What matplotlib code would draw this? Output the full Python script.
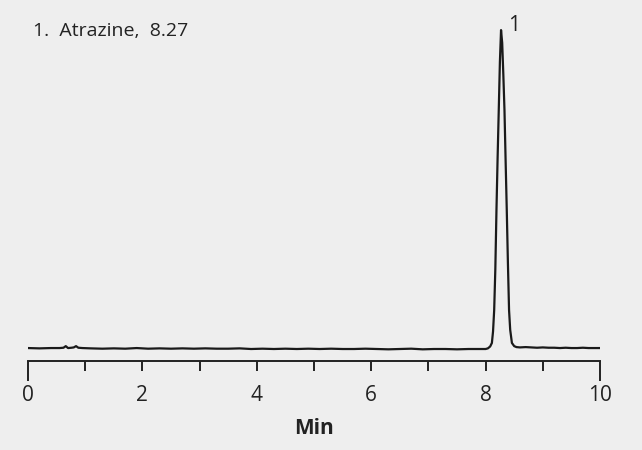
import numpy as np
import matplotlib.pyplot as plt

# retention time (min) and detector signal (% of peak height)
base_t = [0.00, 0.20, 0.40, 0.55, 0.62, 0.66, 0.70, 0.76, 0.80, 0.84, 0.88, 0.95,
          1.10, 1.30, 1.50, 1.70, 1.90, 2.10, 2.30, 2.50, 2.70, 2.90, 3.10, 3.30,
          3.50, 3.70, 3.90, 4.10, 4.30, 4.50, 4.70, 4.90, 5.10, 5.30, 5.50, 5.70,
          5.90, 6.10, 6.30, 6.50, 6.70, 6.90, 7.10, 7.30, 7.50, 7.70, 7.85, 7.95]
base_y = [0.3, 0.2, 0.3, 0.3, 0.4, 0.9, 0.3, 0.4, 0.5, 0.9, 0.4, 0.3,
          0.2, 0.1, 0.2, 0.1, 0.3, 0.1, 0.2, 0.1, 0.2, 0.1, 0.2, 0.1,
          0.1, 0.2, 0.0, 0.1, 0.0, 0.1, 0.0, 0.1, 0.0, 0.1, 0.0, 0.0,
          0.1, 0.0, -0.1, 0.0, 0.1, -0.1, 0.0, 0.0, -0.1, 0.0, 0.0, 0.0]
peak_t = [8.00, 8.04, 8.08, 8.11, 8.13, 8.15, 8.17, 8.19, 8.21, 8.23, 8.25, 8.27,
          8.29, 8.31, 8.33, 8.35, 8.37, 8.39, 8.41, 8.43, 8.46, 8.50, 8.54]
peak_y = [0.0, 0.2, 0.8, 1.9, 5.5, 12.2, 25.0, 43.6, 60.0, 74.9, 90.0, 100.0,
          96.0, 86.0, 74.9, 59.0, 43.6, 27.0, 12.2, 6.0, 1.9, 0.9, 0.6]
tail_t = [8.60, 8.70, 8.80, 8.90, 9.00, 9.10, 9.20, 9.30, 9.40, 9.50, 9.60, 9.70, 9.80, 9.90, 10.00]
tail_y = [0.5, 0.6, 0.5, 0.4, 0.5, 0.4, 0.4, 0.3, 0.4, 0.3, 0.3, 0.4, 0.3, 0.3, 0.3]

legend_text = "1.  Atrazine,  8.27"
peak_rt = [8.27]
peak_h = [100.0]

t = np.array(base_t + peak_t + tail_t)
y = np.array(base_y + peak_y + tail_y)

bg = "#eeeeee"
ink = "#222222"
plt.rcParams['font.family'] = ['Open Sans', 'DejaVu Sans']

fig = plt.figure(figsize=(6.42, 4.5), dpi=100, facecolor=bg)
ax = fig.add_axes([28 / 642, (450 - 361) / 450, 572 / 642, 351 / 450])
ax.set_facecolor(bg)

ax.plot(t, y, color="#1a1a1a", lw=1.6)

ax.set_xlim(0, 10)
ax.set_ylim(-3.76, 106.3)
for s in ["top", "left", "right"]:
    ax.spines[s].set_visible(False)
ax.spines["bottom"].set_color(ink)
ax.spines["bottom"].set_linewidth(1.4)
ax.set_yticks([])

ax.set_xticks(range(0, 11, 2))
ax.set_xticks(range(1, 10, 2), minor=True)
ax.tick_params(axis="x", which="both", direction="out", length=7.2, width=1.4,
               color=ink, labelsize=15, labelcolor=ink, pad=10)
ticks = ax.xaxis.get_major_ticks()
for tk in (ticks[0], ticks[-1]):
    tk.tick1line.set_markersize(14.4)

ax.set_xlabel("Min", fontsize=15, fontweight="bold", color=ink, labelpad=9)

fig.text(33 / 642, 1 - 31 / 450, legend_text, fontsize=14, color=ink, va="center", ha="left")
ax.text(peak_rt[0] + 0.22, peak_h[0] + 1.5, "1", fontsize=15, color=ink, ha="center", va="center")

fig.savefig("out.png", dpi=100, facecolor=bg)
